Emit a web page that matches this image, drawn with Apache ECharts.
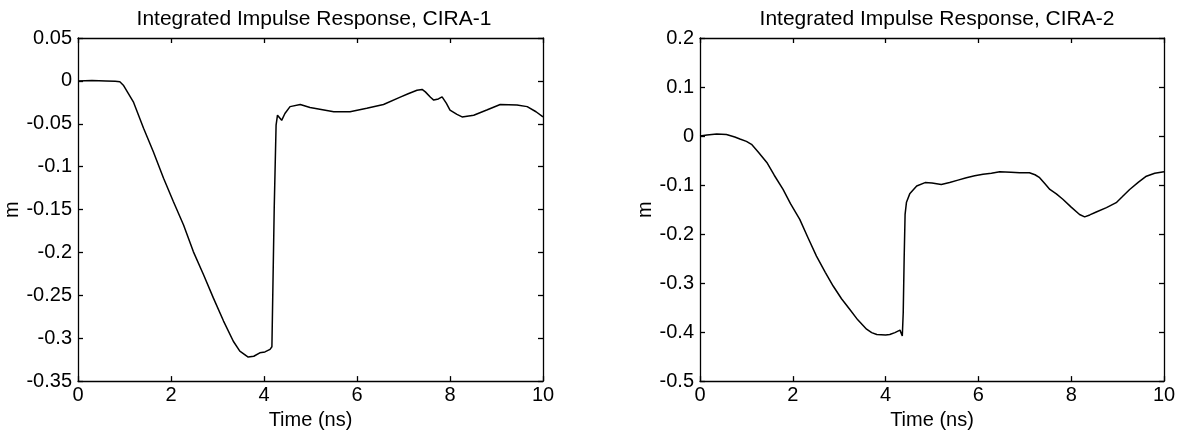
<!DOCTYPE html>
<html>
<head>
<meta charset="utf-8">
<script src="https://cdn.jsdelivr.net/npm/echarts@6/dist/echarts.min.js"></script>
<style>
html,body{margin:0;padding:0;background:#fff;}
#chart{width:1180px;height:435px;}
</style>
</head>
<body>
<div id="chart"></div>
<script>
// ---- Data ----
const titles = ["Integrated Impulse Response, CIRA-1", "Integrated Impulse Response, CIRA-2"];
const xAxisName = "Time (ns)";
const yAxisName = "m";

const time1 = [0,0.3,0.6,0.8,0.9,0.975,1.19,1.41,1.62,1.84,2.05,2.27,2.48,2.7,2.91,3.13,3.34,3.48,3.66,3.78,3.91,4.02,4.13,4.17,4.22,4.26,4.29,4.33,4.38,4.45,4.56,4.78,4.99,5.2,5.5,5.85,6.21,6.57,6.93,7.1,7.29,7.4,7.47,7.58,7.65,7.75,7.83,7.92,8.0,8.15,8.26,8.51,8.79,9.08,9.44,9.66,9.85,10];
const m1 = [0,0.0005,0,-0.0005,-0.001,-0.005,-0.0244,-0.0553,-0.0826,-0.1135,-0.1407,-0.168,-0.199,-0.226,-0.253,-0.28,-0.3035,-0.315,-0.322,-0.321,-0.317,-0.316,-0.313,-0.31,-0.148,-0.0515,-0.04,-0.042,-0.046,-0.038,-0.03,-0.0275,-0.031,-0.033,-0.036,-0.036,-0.032,-0.0275,-0.019,-0.015,-0.011,-0.01,-0.0128,-0.019,-0.0224,-0.021,-0.0186,-0.026,-0.034,-0.039,-0.042,-0.04,-0.034,-0.0275,-0.028,-0.03,-0.036,-0.042];

const time2 = [0,0.15,0.36,0.57,0.75,0.86,1.0,1.11,1.25,1.44,1.6,1.79,1.95,2.15,2.33,2.51,2.7,2.87,3.05,3.23,3.4,3.59,3.7,3.81,4.0,4.09,4.2,4.31,4.34,4.36,4.38,4.4,4.42,4.45,4.52,4.67,4.85,5.0,5.2,5.38,5.56,5.74,5.92,6.1,6.28,6.46,6.7,6.89,7.1,7.22,7.32,7.43,7.54,7.68,7.82,8.0,8.18,8.29,8.4,8.54,8.76,8.97,9.1,9.26,9.45,9.62,9.8,10];
const m2 = [0,0.002,0.004,0.003,-0.002,-0.006,-0.011,-0.017,-0.032,-0.054,-0.08,-0.109,-0.138,-0.17,-0.208,-0.245,-0.278,-0.306,-0.332,-0.354,-0.375,-0.394,-0.401,-0.405,-0.406,-0.405,-0.401,-0.396,-0.392,-0.408,-0.36,-0.25,-0.16,-0.135,-0.118,-0.102,-0.095,-0.096,-0.099,-0.095,-0.09,-0.085,-0.081,-0.078,-0.076,-0.073,-0.074,-0.075,-0.075,-0.079,-0.085,-0.097,-0.109,-0.118,-0.129,-0.145,-0.16,-0.165,-0.161,-0.155,-0.146,-0.136,-0.124,-0.109,-0.094,-0.082,-0.076,-0.073];

const xRange = [0, 10, 2];
const yRange1 = [-0.35, 0.05, 0.05];
const yRange2 = [-0.5, 0.2, 0.1];

// ---- Chart ----
const FONT = '"Liberation Sans", Arial, sans-serif';
const black = '#000';
const chart = echarts.init(document.getElementById('chart'), null, {renderer: 'canvas'});

function pairs(xs, ys) { return xs.map((x, i) => [x, ys[i]]); }

const AXW = 1.3;
function xAxes(gi) {
  const base = {
    gridIndex: gi, type: 'value', min: xRange[0], max: xRange[1], interval: xRange[2],
    axisLine: {show: true, onZero: false, lineStyle: {color: black, width: AXW}},
    axisTick: {show: true, inside: true, length: 5, lineStyle: {color: black, width: AXW}},
    splitLine: {show: false}
  };
  return [
    Object.assign({}, base, {
      position: 'bottom',
      axisLabel: {color: black, fontFamily: FONT, fontSize: 20, margin: 4},
      name: xAxisName, nameLocation: 'middle', nameGap: 23,
      nameTextStyle: {color: black, fontFamily: FONT, fontSize: 20}
    }),
    Object.assign({}, base, {position: 'top', axisLabel: {show: false}})
  ];
}
function yAxes(gi, r, gap) {
  const base = {
    gridIndex: gi, type: 'value', min: r[0], max: r[1], interval: r[2],
    axisLine: {show: true, onZero: false, lineStyle: {color: black, width: AXW}},
    axisTick: {show: true, inside: true, length: 5, lineStyle: {color: black, width: AXW}},
    splitLine: {show: false}
  };
  return [
    Object.assign({}, base, {
      position: 'left',
      axisLabel: {color: black, fontFamily: FONT, fontSize: 20, margin: 6},
      name: yAxisName, nameLocation: 'middle', nameGap: gap,
      nameTextStyle: {color: black, fontFamily: FONT, fontSize: 20}
    }),
    Object.assign({}, base, {position: 'right', axisLabel: {show: false}})
  ];
}

const option = {
  backgroundColor: '#fff',
  animation: false,
  title: [
    {text: titles[0], left: 309, top: 4, textAlign: 'center',
     textStyle: {color: black, fontFamily: FONT, fontSize: 21, fontWeight: 'normal'}},
    {text: titles[1], left: 932, top: 4, textAlign: 'center',
     textStyle: {color: black, fontFamily: FONT, fontSize: 21, fontWeight: 'normal'}}
  ],
  grid: [
    {left: 78, top: 38, width: 465, height: 344, containLabel: false},
    {left: 700, top: 38, width: 464, height: 344, containLabel: false}
  ],
  xAxis: [...xAxes(0), ...xAxes(1)],
  yAxis: [...yAxes(0, yRange1, 56), ...yAxes(1, yRange2, 43)],
  series: [
    {type: 'line', xAxisIndex: 0, yAxisIndex: 0, data: pairs(time1, m1), showSymbol: false,
     lineStyle: {color: black, width: 1.5}, silent: true},
    {type: 'line', xAxisIndex: 2, yAxisIndex: 2, data: pairs(time2, m2), showSymbol: false,
     lineStyle: {color: black, width: 1.5}, silent: true}
  ]
};
chart.setOption(option);
</script>
</body>
</html>
